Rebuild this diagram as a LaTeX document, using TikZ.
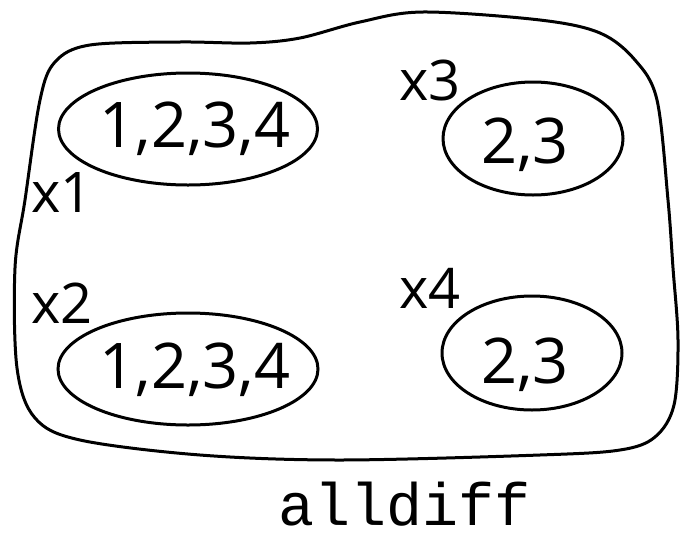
\documentclass[tikz,border=0pt]{standalone}
\usepackage{fontspec}
\setmainfont{Open Sans}
\newfontfamily\codefont{Liberation Mono}
\usetikzlibrary{shapes.geometric}
\begin{document}
\begin{tikzpicture}[x=1pt,y=-1pt,
  line width=3pt,
  dom/.style={draw,ellipse,inner sep=0pt},
  domtext/.style={anchor=base,inner sep=0pt,font=\fontsize{63}{70}\selectfont},
  varlabel/.style={anchor=base west,inner sep=0pt,font=\fontsize{56}{62}\selectfont}]
\useasboundingbox (0,0) rectangle (680,536);
% constraint blob
\draw plot[smooth cycle,tension=0.55] coordinates {
  (15,268) (25,200) (40,100) (55,62) (90,45) (180,42) (250,43) (300,38)
  (360,22) (423,12) (540,20) (600,33) (635,60) (657,100) (668,200)
  (673,268) (678,340) (674,405) (655,437) (620,450) (540,455) (340,460)
  (200,455) (80,440) (35,418) (17,368)};
% domains
\node[dom,minimum width=259pt,minimum height=112pt] (d1) at (188,129) {};
\node[dom,minimum width=260pt,minimum height=112pt] (d2) at (188,369) {};
\node[dom,minimum width=180pt,minimum height=113pt] (d3) at (533,138.5) {};
\node[dom,minimum width=180pt,minimum height=114pt] (d4) at (532,353) {};
\node[domtext] (t1) at (195,147) {1,2,3,4};
\node[domtext] (t2) at (195,388) {1,2,3,4};
\node[domtext] (t3) at (525,163) {2,3};
\node[domtext] (t4) at (525,383) {2,3};
% variable labels
\node[varlabel] (x1) at (30,212) {x1};
\node[varlabel] (x2) at (30,323) {x2};
\node[varlabel] (x3) at (398,100) {x3};
\node[varlabel] (x4) at (398,308) {x4};
% constraint name
\node[anchor=base,inner sep=0pt,font=\codefont\fontsize{60}{66}\selectfont] (c) at (405,525) {alldiff};
\end{tikzpicture}
\end{document}
